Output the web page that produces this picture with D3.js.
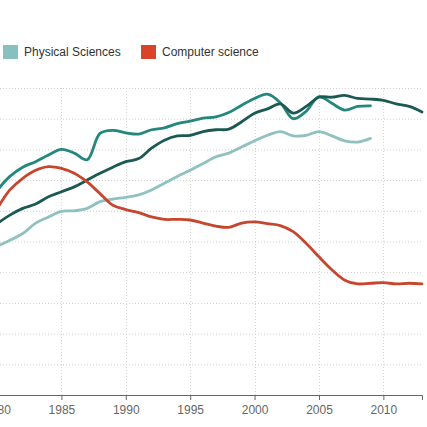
<!DOCTYPE html>
<html>
<head>
<meta charset="utf-8">
<script src="https://cdn.jsdelivr.net/npm/d3@7"></script>
<style>
  body { margin: 0; background: #fff; }
  svg { display: block; font-family: Arial, "Liberation Sans", sans-serif; }
</style>
</head>
<body>
<div id="figure-holder"></div>
<script>
// share of women among graduates, percent
const yearsLong = d3.range(1980, 2014)
const yearsShort = d3.range(1980, 2010)

const medicalSchool = [33.3, 35.6, 37.1, 38.0, 39.1, 40.0, 39.4, 38.3, 42.6, 43.1,
    42.7, 42.5, 43.2, 43.5, 44.2, 44.6, 45.1, 45.3, 46.0, 47.2,
    48.3, 49.0, 47.6, 45.0, 46.2, 48.6, 47.5, 46.4, 47.0, 47.1]
const lawSchool = [27.9, 29.3, 30.4, 31.1, 32.3, 33.1, 33.9, 35.0, 36.1, 37.1,
    38.0, 38.5, 40.2, 41.5, 42.2, 42.3, 42.9, 43.2, 43.3, 44.5,
    45.9, 46.6, 47.4, 45.9, 47.0, 48.5, 48.5, 48.8, 48.3, 48.2,
    48.0, 47.4, 47.0, 46.1]
const physicalSciences = [24.2, 25.2, 26.3, 28.0, 29.0, 29.9, 30.0, 30.4, 31.5, 31.9,
    32.2, 32.6, 33.4, 34.5, 35.6, 36.6, 37.7, 38.8, 39.4, 40.4,
    41.4, 42.3, 42.9, 42.2, 42.3, 42.9, 42.2, 41.4, 41.2, 41.8]
const computerScience = [30.3, 33.4, 35.3, 36.6, 37.2, 36.9, 36.1, 34.7, 32.8, 30.9,
    30.2, 29.7, 29.0, 28.6, 28.6, 28.5, 28.0, 27.5, 27.3, 28.0,
    28.2, 27.9, 27.6, 26.6, 24.7, 22.5, 20.4, 18.7, 18.1, 18.2,
    18.3, 18.1, 18.2, 18.1]

const xTicks = [1980, 1985, 1990, 1995, 2000, 2005, 2010]
const yTicks = [5, 10, 15, 20, 25, 30, 35, 40, 45, 50]

const series = [
    { name: 'Medical School', years: yearsShort, values: medicalSchool, color: '#23877b' },
    { name: 'Law School', years: yearsLong, values: lawSchool, color: '#1b5a52' },
    { name: 'Physical Sciences', years: yearsShort, values: physicalSciences, color: '#8fc1c0' },
    { name: 'Computer science', years: yearsLong, values: computerScience, color: '#c6462e' }
]
const legendItems = ['Physical Sciences', 'Computer science']

const W = 427, H = 427
const svg = d3.select('#figure-holder').append('svg')
    .attr('width', W)
    .attr('height', H)

const x = d3.scaleLinear()
    .domain([1980, 2013])
    .range([-3, 422])

const y = d3.scaleLinear()
    .domain([0, 50])
    .range([395, 88])

// dotted grid
svg.append('g')
    .selectAll('line')
    .data(yTicks)
    .join('line')
    .attr('x1', 0)
    .attr('x2', x(2013))
    .attr('y1', d => y(d) + 0.5)
    .attr('y2', d => y(d) + 0.5)
    .style('stroke', '#cfcfcf')
    .style('stroke-dasharray', '1,2')

svg.append('g')
    .selectAll('line')
    .data(xTicks)
    .join('line')
    .attr('x1', d => Math.round(x(d)) + 0.5)
    .attr('x2', d => Math.round(x(d)) + 0.5)
    .attr('y1', y(50))
    .attr('y2', y(0))
    .style('stroke', '#d6d6d6')
    .style('stroke-dasharray', '1,2')

// lines
const line = d3.line()
    .x(d => x(d[0]))
    .y(d => y(d[1]))
    .curve(d3.curveCatmullRom.alpha(0.5))

svg.append('g')
    .selectAll('path')
    .data(series)
    .join('path')
    .attr('d', s => line(s.years.map((yr, i) => [yr, s.values[i]])))
    .style('fill', 'none')
    .style('stroke', s => s.color)
    .style('stroke-width', 2.8)
    .style('stroke-linejoin', 'round')
    .style('stroke-linecap', 'round')

// x axis
const xAxis = svg.append('g')
    .attr('id', 'x-axis')
    .attr('transform', `translate(0, ${y(0)})`)
    .call(d3.axisBottom(x).tickValues(xTicks).tickFormat(d3.format('d')).tickSize(5).tickSizeOuter(5))

xAxis.select('.domain').style('stroke', '#666')
xAxis.selectAll('.tick line').style('stroke', '#666')
xAxis.selectAll('text')
    .style('font-size', '12px')
    .style('fill', '#666')
    .attr('dy', '0.9em')

// legend
const legend = svg.append('g')
    .attr('transform', 'translate(3, 45)')

const item = legend.selectAll('g')
    .data(legendItems)
    .join('g')
    .attr('transform', (d, i) => `translate(${i * 138}, 0)`)

item.append('rect')
    .attr('width', 15)
    .attr('height', 14)
    .style('fill', d => d === 'Computer science' ? '#d9422b' : '#88c0c0')

item.append('text')
    .text(d => d)
    .attr('x', 21)
    .attr('y', 11)
    .style('font-size', '12px')
    .style('fill', '#333')
</script>
</body>
</html>
